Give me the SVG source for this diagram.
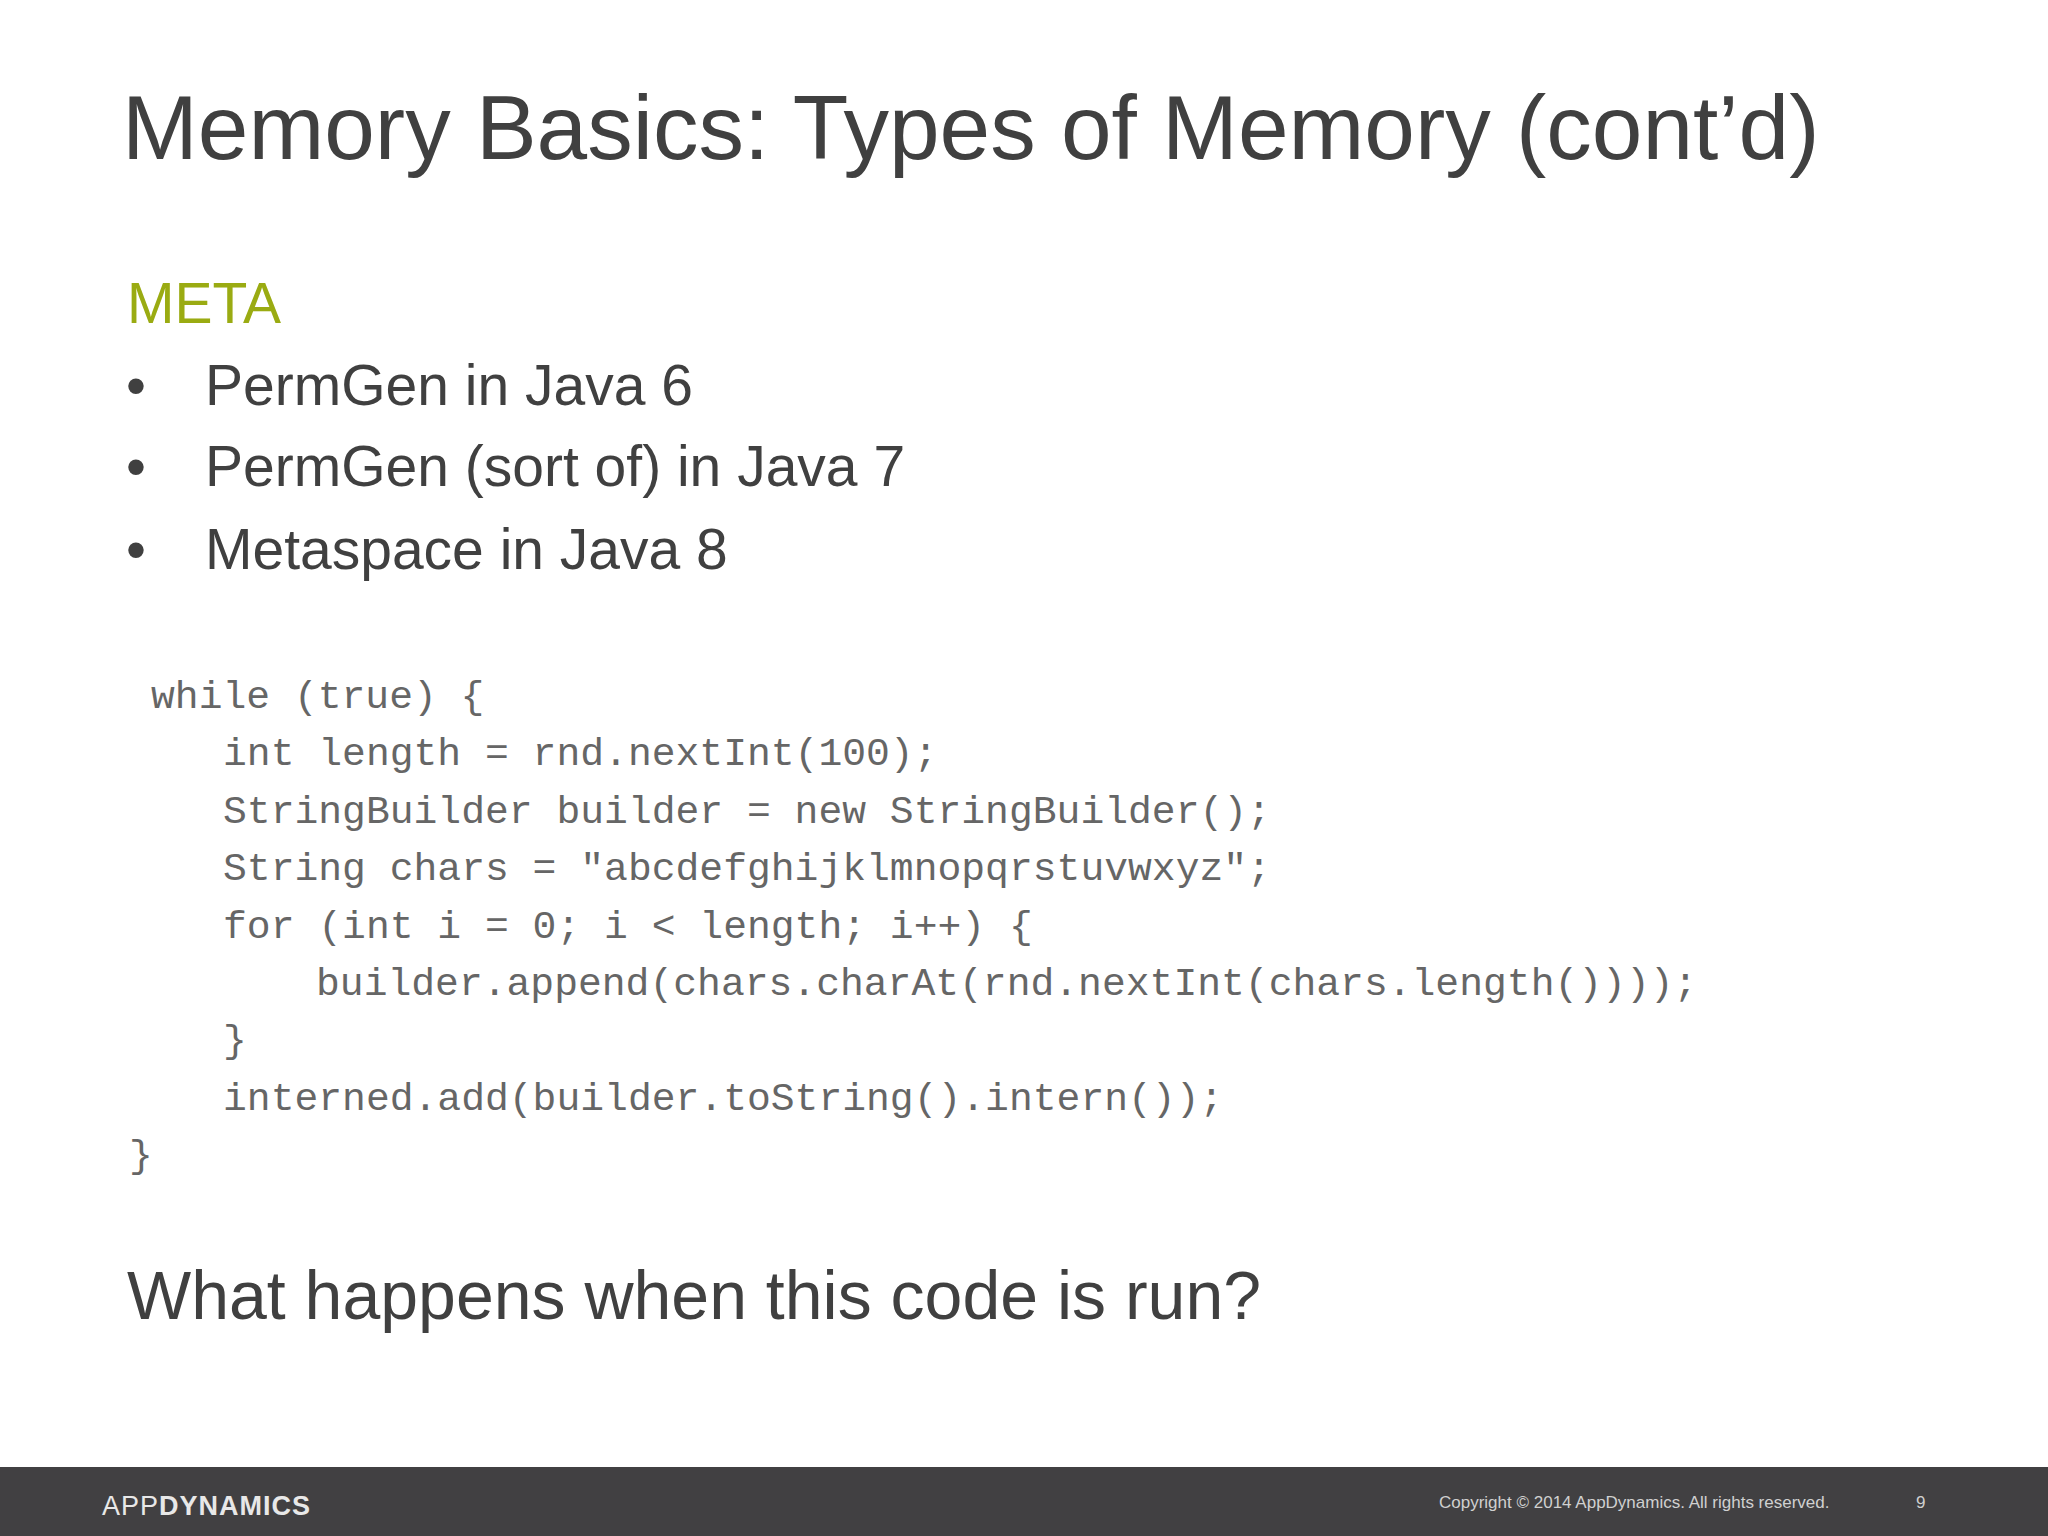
<svg xmlns="http://www.w3.org/2000/svg" width="2048" height="1536" viewBox="0 0 2048 1536">
<style>
.s{font-family:"Liberation Sans",Arial,sans-serif;fill:#404040}
.c{font-family:"Liberation Mono","Courier New",monospace;font-size:39.7px;fill:#666666;white-space:pre}
</style>
<rect width="2048" height="1536" fill="#ffffff"/>
<text class="s" x="122" y="159" font-size="91">Memory Basics: Types of Memory (cont’d)</text>
<text class="s" x="127" y="323" font-size="57" style="fill:#9aab12">META</text>
<g class="s" font-size="57">
<text x="126" y="405">•</text><text x="205" y="405">PermGen in Java 6</text>
<text x="126" y="486">•</text><text x="205" y="486">PermGen (sort of) in Java 7</text>
<text x="126" y="569">•</text><text x="205" y="569">Metaspace in Java 8</text>
</g>
<g class="c">
<text x="151" y="708">while (true) {</text>
<text x="223" y="765">int length = rnd.nextInt(100);</text>
<text x="223" y="823">StringBuilder builder = new StringBuilder();</text>
<text x="223" y="880">String chars = "abcdefghijklmnopqrstuvwxyz";</text>
<text x="223" y="938">for (int i = 0; i &lt; length; i++) {</text>
<text x="316" y="995">builder.append(chars.charAt(rnd.nextInt(chars.length())));</text>
<text x="223" y="1052">}</text>
<text x="223" y="1110">interned.add(builder.toString().intern());</text>
<text x="129" y="1167">}</text>
</g>
<text class="s" x="127" y="1319" font-size="68">What happens when this code is run?</text>
<rect x="0" y="1467" width="2048" height="69" fill="#414042"/>
<text x="102" y="1515" font-family="Liberation Sans,sans-serif" font-size="27" fill="#e8e8e8" letter-spacing="1">APP<tspan font-weight="bold">DYNAMICS</tspan></text>
<text x="1439" y="1508" font-family="Liberation Sans,sans-serif" font-size="17" fill="#d0d0d0">Copyright © 2014 AppDynamics. All rights reserved.</text>
<text x="1916" y="1508" font-family="Liberation Sans,sans-serif" font-size="17" fill="#d0d0d0">9</text>
</svg>
